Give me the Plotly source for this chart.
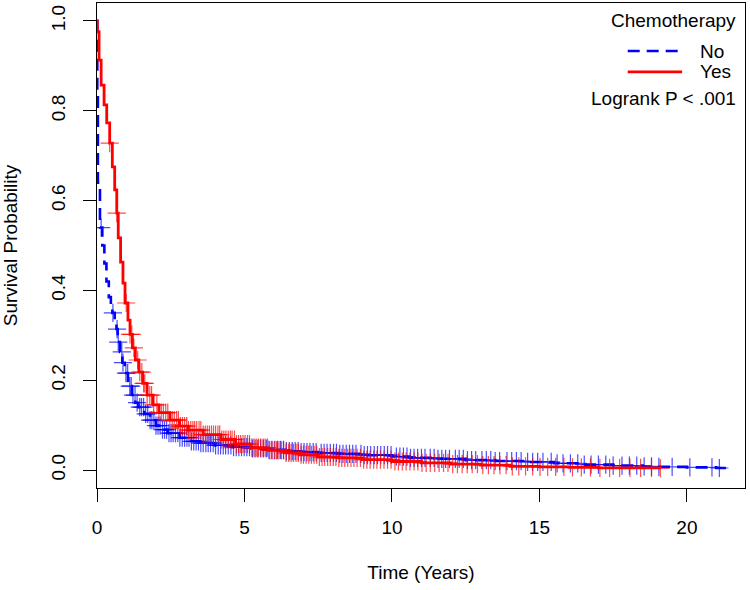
import numpy as np
import plotly.graph_objects as go

# ---- Kaplan-Meier step curves ----
# Chemotherapy = No (blue, dashed)
no_time = [0.0, 0.01, 0.03, 0.10, 0.18, 0.25, 0.32, 0.40, 0.47, 0.52, 0.60, 0.66,
           0.70, 0.78, 0.86, 0.94, 1.05, 1.18, 1.30, 1.40, 1.60, 1.80, 2.00, 2.20,
           2.40, 2.80, 3.20, 3.50, 4.00, 4.60, 5.20, 5.80, 6.40, 6.90, 7.50, 8.20,
           9.00, 10.0, 10.6, 11.5, 12.5, 13.5, 14.6, 15.5, 16.5, 17.5, 18.5, 19.0,
           20.0, 21.0, 21.45, 21.5]
no_surv = [1.0, 0.84, 0.64, 0.54, 0.50, 0.46, 0.42, 0.385, 0.36, 0.35, 0.33, 0.314,
           0.285, 0.263, 0.239, 0.216, 0.187, 0.167, 0.150, 0.140, 0.125, 0.111, 0.099, 0.090,
           0.082, 0.072, 0.064, 0.060, 0.055, 0.051, 0.048, 0.045, 0.042, 0.040, 0.038, 0.036,
           0.033, 0.030, 0.027, 0.025, 0.022, 0.020, 0.018, 0.015, 0.012, 0.010, 0.008, 0.007,
           0.006, 0.0045, 0.0025, 0.0025]

# Chemotherapy = Yes (red, solid)
yes_time = [0.0, 0.01, 0.07, 0.14, 0.24, 0.33, 0.43, 0.52, 0.60, 0.67, 0.72, 0.80,
            0.88, 0.95, 1.05, 1.12, 1.20, 1.30, 1.42, 1.55, 1.70, 1.90, 2.10, 2.47,
            2.80, 3.10, 3.60, 4.20, 4.70, 5.20, 5.80, 6.40, 6.90, 7.50, 8.20, 9.00,
            10.0, 11.0, 12.0, 13.0, 14.0, 15.0, 16.0, 17.0, 18.0, 19.1]
yes_surv = [1.0, 0.976, 0.913, 0.857, 0.813, 0.773, 0.728, 0.675, 0.624, 0.572, 0.517, 0.463,
            0.416, 0.372, 0.334, 0.302, 0.272, 0.245, 0.218, 0.193, 0.167, 0.145, 0.128, 0.111,
            0.098, 0.089, 0.079, 0.068, 0.058, 0.050, 0.044, 0.038, 0.034, 0.029, 0.027, 0.023,
            0.019, 0.016, 0.013, 0.011, 0.008, 0.007, 0.006, 0.005, 0.005, 0.004]

# censoring times (+ marks)
no_censor = [0.14, 0.54, 0.68, 0.72, 0.84, 0.88, 0.98, 1.04, 1.11, 1.16, 1.22, 1.29, 1.36, 1.45,
             1.51, 1.58, 1.65, 1.72, 1.80, 1.86, 1.93, 2.00, 2.07, 2.14, 2.22, 2.29, 2.36, 2.44,
             2.51, 2.58, 2.66, 2.74, 2.81, 2.89, 2.97, 3.05, 3.12, 3.20, 3.28, 3.36, 3.44, 3.52,
             3.60, 3.69, 3.77, 3.85, 3.94, 4.02, 4.11, 4.19, 4.28, 4.36, 4.45, 4.54, 4.63, 4.72,
             4.81, 4.90, 4.99, 5.08, 5.17, 5.27, 5.36, 5.45, 5.55, 5.64, 5.74, 5.83, 5.93, 6.03,
             6.12, 6.22, 6.32, 6.42, 6.52, 6.62, 6.72, 6.82, 6.92, 7.02, 7.12, 7.22, 7.33, 7.43,
             7.60, 7.70, 7.80, 7.91, 8.02, 8.12, 8.23, 8.34, 8.45, 8.56, 8.67, 8.78, 8.95, 9.06,
             9.17, 9.28, 9.40, 9.51, 9.62, 9.74, 9.85, 9.97, 10.15, 10.27, 10.39, 10.51, 10.63,
             10.75, 10.87, 11.00, 11.12, 11.30, 11.43, 11.56, 11.69, 11.82, 11.95, 12.15, 12.28,
             12.42, 12.56, 12.70, 12.84, 13.05, 13.20, 13.35, 13.50, 13.65, 13.90, 14.06, 14.22,
             14.38, 14.60, 14.77, 14.94, 15.12, 15.40, 15.60, 15.80, 16.05, 16.30, 16.52, 16.75,
             17.00, 17.25, 17.50, 17.80, 18.05, 18.30, 18.55, 18.80, 19.05, 19.50, 20.10, 20.85,
             21.10]
yes_censor = [0.43, 0.67, 0.99, 1.12, 1.18, 1.25, 1.38, 1.45, 1.52, 1.58, 1.62, 1.70, 1.79, 1.85,
              1.92, 2.03, 2.10, 2.18, 2.25, 2.33, 2.40, 2.47, 2.55, 2.62, 2.70, 2.76, 2.83, 2.90,
              2.97, 3.04, 3.10, 3.18, 3.25, 3.31, 3.38, 3.46, 3.52, 3.60, 3.67, 3.74, 3.81, 3.88,
              3.95, 4.02, 4.10, 4.16, 4.23, 4.30, 4.37, 4.45, 4.52, 4.58, 4.66, 4.73, 4.80, 4.87,
              4.95, 5.02, 5.10, 5.17, 5.25, 5.32, 5.40, 5.48, 5.55, 5.63, 5.70, 5.78, 5.86, 5.93,
              6.01, 6.09, 6.17, 6.25, 6.33, 6.41, 6.50, 6.58, 6.66, 6.75, 6.83, 6.92, 7.00, 7.09,
              7.18, 7.27, 7.36, 7.45, 7.54, 7.63, 7.72, 7.82, 7.91, 8.01, 8.10, 8.20, 8.30, 8.40,
              8.50, 8.61, 8.71, 8.82, 8.93, 9.04, 9.15, 9.26, 9.38, 9.49, 9.61, 9.73, 9.85, 9.97,
              10.10, 10.22, 10.35, 10.48, 10.61, 10.75, 10.88, 11.02, 11.16, 11.30, 11.45, 11.60,
              11.75, 11.90, 12.06, 12.22, 12.38, 12.55, 12.72, 12.90, 13.08, 13.27, 13.46, 13.66,
              13.87, 14.08, 14.30, 14.53, 14.77, 15.02, 15.28, 15.55, 15.83, 16.12, 16.42, 16.73,
              17.05, 17.38, 17.72, 18.07, 18.43, 18.80, 19.10]

x_ticks = [0, 5, 10, 15, 20]
y_ticks = [0.0, 0.2, 0.4, 0.6, 0.8, 1.0]

FONT = "Liberation Sans, Arial, Helvetica, sans-serif"
BLUE = "#0000FF"
RED = "#FF0000"


def step_lookup(times, surv, t_query):
    times = np.asarray(times)
    surv = np.asarray(surv)
    idx = np.searchsorted(times, np.asarray(t_query), side="right") - 1
    return surv[np.clip(idx, 0, len(surv) - 1)]


fig = go.Figure()

fig.add_trace(go.Scatter(
    x=no_time, y=no_surv, mode="lines", line_shape="hv", name="No",
    line=dict(color=BLUE, width=2.6, dash="12px,7px"), showlegend=False))
fig.add_trace(go.Scatter(
    x=no_censor, y=step_lookup(no_time, no_surv, no_censor), mode="markers",
    name="No (censored)", showlegend=False,
    marker=dict(symbol="cross-thin", size=13, line=dict(color="rgba(0,0,255,0.7)", width=1.2))))
fig.add_trace(go.Scatter(
    x=yes_time, y=yes_surv, mode="lines", line_shape="hv", name="Yes",
    line=dict(color=RED, width=2.8), showlegend=False))
fig.add_trace(go.Scatter(
    x=yes_censor, y=step_lookup(yes_time, yes_surv, yes_censor), mode="markers",
    name="Yes (censored)", showlegend=False,
    marker=dict(symbol="cross-thin", size=13, line=dict(color="rgba(255,0,0,0.7)", width=1.2))))

# legend drawn like R's legend(): lines at left, labels right-aligned block
fig.add_shape(type="line", xref="paper", yref="paper", x0=0.819, x1=0.903, y0=0.901, y1=0.901,
              line=dict(color=BLUE, width=2.6, dash="12px,7px"))
fig.add_shape(type="line", xref="paper", yref="paper", x0=0.819, x1=0.903, y0=0.858, y1=0.858,
              line=dict(color=RED, width=2.8))
ann_font = dict(family=FONT, size=19, color="black")
fig.add_annotation(text="Chemotherapy", xref="paper", yref="paper", x=0.989, y=0.963,
                   xanchor="right", yanchor="middle", showarrow=False, font=ann_font)
fig.add_annotation(text="No", xref="paper", yref="paper", x=0.927, y=0.901,
                   xanchor="left", yanchor="middle", showarrow=False, font=ann_font)
fig.add_annotation(text="Yes", xref="paper", yref="paper", x=0.927, y=0.858,
                   xanchor="left", yanchor="middle", showarrow=False, font=ann_font)
fig.add_annotation(text="Logrank P < .001", xref="paper", yref="paper", x=0.989, y=0.804,
                   xanchor="right", yanchor="middle", showarrow=False, font=ann_font)

fig.update_layout(
    width=750, height=590,
    margin=dict(l=97, r=5, t=3, b=102),
    paper_bgcolor="white", plot_bgcolor="white",
    font=dict(family=FONT, size=19, color="black"),
    showlegend=False,
)
fig.update_xaxes(
    range=[0, 21.97], tickvals=x_ticks, ticktext=[str(v) for v in x_ticks],
    ticks="outside", ticklen=13, tickwidth=1, tickcolor="black",
    showline=True, linecolor="black", linewidth=1, mirror=True,
    showgrid=False, zeroline=False, ticklabelstandoff=9,
    title=dict(text="Time (Years)", font=dict(size=19), standoff=28),
    automargin=False)
fig.update_yaxes(
    range=[-0.04, 1.04], tickvals=y_ticks, ticktext=[f"{v:.1f}" for v in y_ticks],
    tickangle=-90,
    ticks="outside", ticklen=13, tickwidth=1, tickcolor="black",
    showline=True, linecolor="black", linewidth=1, mirror=True,
    showgrid=False, zeroline=False, ticklabelstandoff=10,
    title=dict(text="Survival Probability", font=dict(size=19), standoff=26),
    automargin=False)

fig.write_html("out.html", config={"displayModeBar": False},
               post_script="document.body.style.margin='0px';")
